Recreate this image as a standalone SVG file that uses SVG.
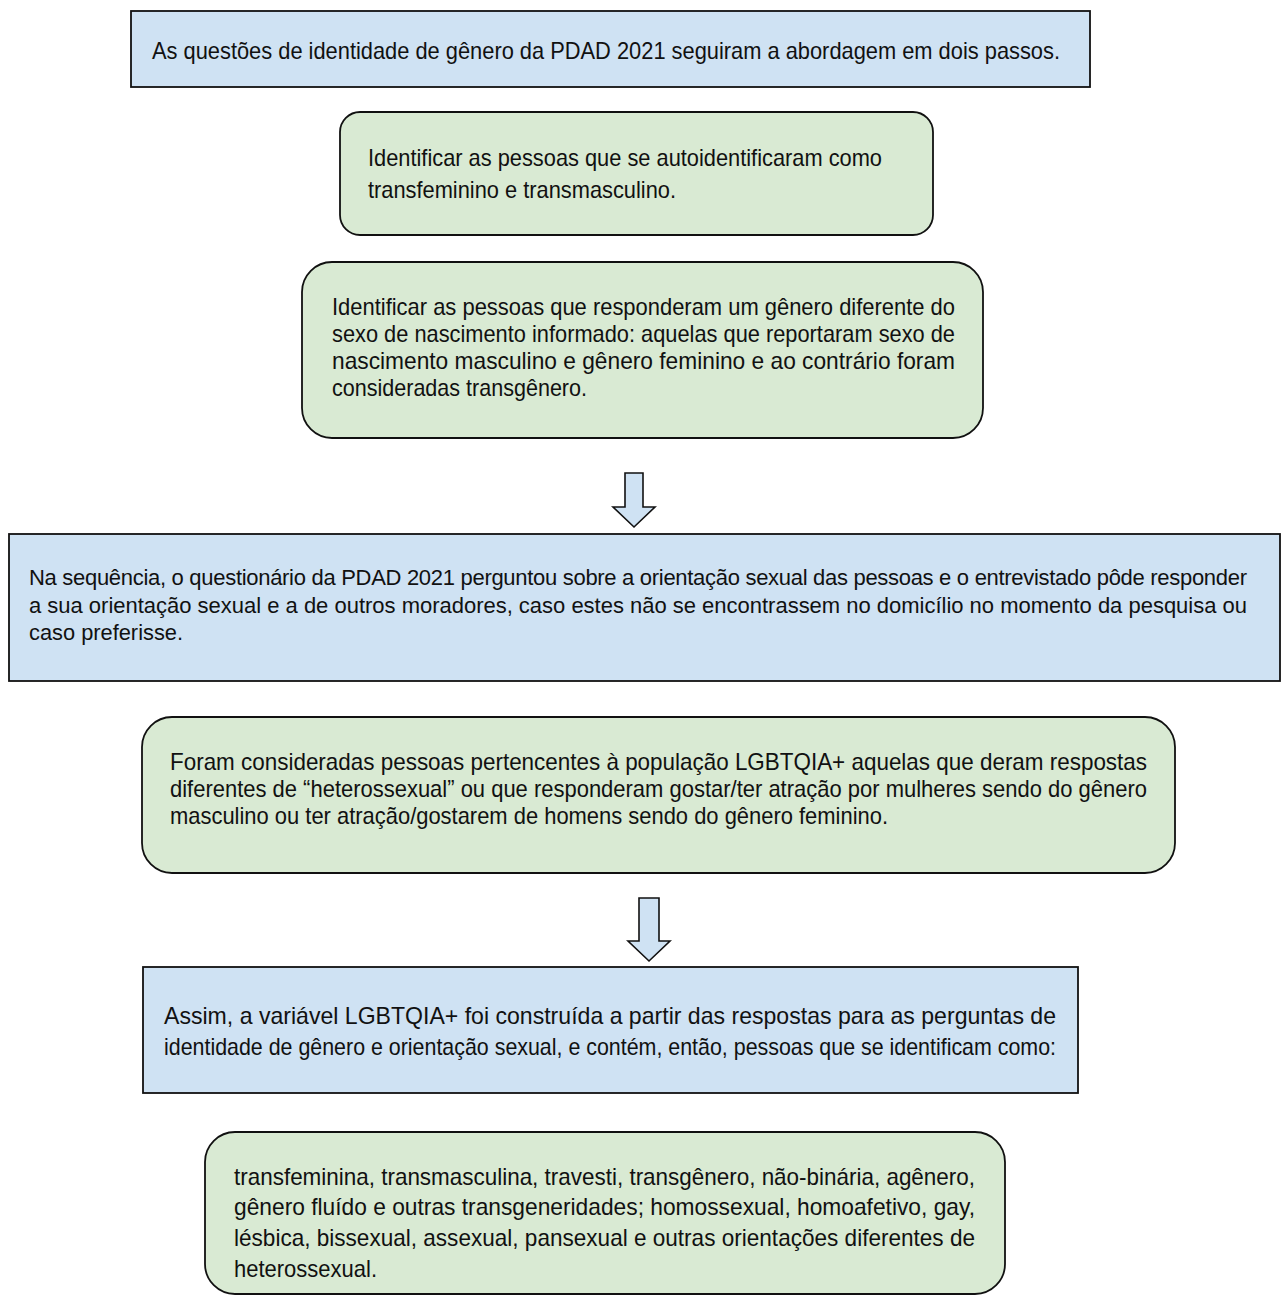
<svg xmlns="http://www.w3.org/2000/svg" width="1284" height="1297" viewBox="0 0 1284 1297">
<style>
.blue{fill:#cfe2f3;stroke:#111;stroke-width:1.8}
.green{fill:#d9ead3;stroke:#111;stroke-width:1.8}
.arrow{fill:#cfe2f3;stroke:#111;stroke-width:1.6;stroke-linejoin:miter}
text{font-family:"Liberation Sans",Arial,sans-serif;font-size:24px;fill:#111}
.wide{font-size:22px}
</style>
<rect width="1284" height="1297" fill="#fff"/>
<g id="box1">
<rect class="blue" x="131" y="11" width="959" height="76"/>
<text x="152" y="59" textLength="908" lengthAdjust="spacingAndGlyphs">As questões de identidade de gênero da PDAD 2021 seguiram a abordagem em dois passos.</text>
</g>
<g id="box2">
<rect class="green" x="340" y="112" width="593" height="123" rx="20" ry="20"/>
<text x="368" y="166" textLength="514" lengthAdjust="spacingAndGlyphs">Identificar as pessoas que se autoidentificaram como</text>
<text x="368" y="198" textLength="308" lengthAdjust="spacingAndGlyphs">transfeminino e transmasculino.</text>
</g>
<g id="box3">
<rect class="green" x="302" y="262" width="681" height="176" rx="30" ry="30"/>
<text x="332" y="315" textLength="623" lengthAdjust="spacingAndGlyphs">Identificar as pessoas que responderam um gênero diferente do</text>
<text x="332" y="342" textLength="623" lengthAdjust="spacingAndGlyphs">sexo de nascimento informado: aquelas que reportaram sexo de</text>
<text x="332" y="369" textLength="623" lengthAdjust="spacingAndGlyphs">nascimento masculino e gênero feminino e ao contrário foram</text>
<text x="332" y="396" textLength="255" lengthAdjust="spacingAndGlyphs">consideradas transgênero.</text>
</g>
<g id="box4">
<rect class="blue" x="9" y="534" width="1271" height="147"/>
<text class="wide" x="29" y="585" textLength="1218" lengthAdjust="spacing">Na sequência, o questionário da PDAD 2021 perguntou sobre a orientação sexual das pessoas e o entrevistado pôde responder</text>
<text class="wide" x="29" y="613" textLength="1218" lengthAdjust="spacing">a sua orientação sexual e a de outros moradores, caso estes não se encontrassem no domicílio no momento da pesquisa ou</text>
<text class="wide" x="29" y="640" textLength="154" lengthAdjust="spacingAndGlyphs">caso preferisse.</text>
</g>
<g id="box5">
<rect class="green" x="142" y="717" width="1033" height="156" rx="30" ry="30"/>
<text x="170" y="770" textLength="977" lengthAdjust="spacingAndGlyphs">Foram consideradas pessoas pertencentes à população LGBTQIA+ aquelas que deram respostas</text>
<text x="170" y="797" textLength="977" lengthAdjust="spacingAndGlyphs">diferentes de “heterossexual” ou que responderam gostar/ter atração por mulheres sendo do gênero</text>
<text x="170" y="824" textLength="718" lengthAdjust="spacingAndGlyphs">masculino ou ter atração/gostarem de homens sendo do gênero feminino.</text>
</g>
<g id="box6">
<rect class="blue" x="143" y="967" width="935" height="126"/>
<text x="164" y="1024" textLength="892" lengthAdjust="spacingAndGlyphs">Assim, a variável LGBTQIA+ foi construída a partir das respostas para as perguntas de</text>
<text x="164" y="1055" textLength="892" lengthAdjust="spacingAndGlyphs">identidade de gênero e orientação sexual, e contém, então, pessoas que se identificam como:</text>
</g>
<g id="box7">
<rect class="green" x="205" y="1132" width="800" height="162" rx="30" ry="30"/>
<text x="234" y="1185" textLength="741" lengthAdjust="spacingAndGlyphs">transfeminina, transmasculina, travesti, transgênero, não-binária, agênero,</text>
<text x="234" y="1215" textLength="741" lengthAdjust="spacingAndGlyphs">gênero fluído e outras transgeneridades; homossexual, homoafetivo, gay,</text>
<text x="234" y="1246" textLength="741" lengthAdjust="spacingAndGlyphs">lésbica, bissexual, assexual, pansexual e outras orientações diferentes de</text>
<text x="234" y="1277" textLength="143" lengthAdjust="spacingAndGlyphs">heterossexual.</text>
</g>
<g id="connectors">
<polygon class="arrow" points="625,473 643,473 643,507 655,507 634,527 613,507 625,507"/>
<polygon class="arrow" points="639,898 659,898 659,941 670,941 649,961 628,941 639,941"/>
</g>
</svg>
